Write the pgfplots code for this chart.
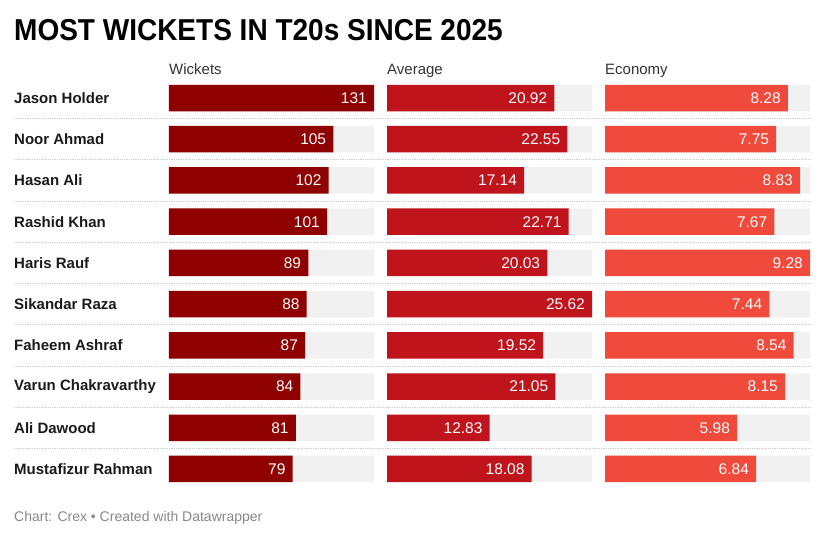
\documentclass[border=0pt]{standalone}
\usepackage{pgfplots}
\pgfplotsset{compat=1.18}
\usepackage{pgfplotstable}
\usepackage{fontspec}
\setmainfont{Liberation Sans}
\definecolor{cwk}{HTML}{8F0000}
\definecolor{cavg}{HTML}{C0141C}
\definecolor{ceco}{HTML}{EF4A3C}
\definecolor{cbg}{HTML}{F1F1F1}
\definecolor{ctxt}{HTML}{1A1A1A}
\definecolor{chead}{HTML}{333333}
\definecolor{cfoot}{HTML}{888888}
\definecolor{csep}{HTML}{CCCCCC}

\pgfplotstableread{
r wk wkl avg avgl eco ecol
1 131 131 20.92 20.92 8.28 8.28
2 105 105 22.55 22.55 7.75 7.75
3 102 102 17.14 17.14 8.83 8.83
4 101 101 22.71 22.71 7.67 7.67
5 89 89 20.03 20.03 9.28 9.28
6 88 88 25.62 25.62 7.44 7.44
7 87 87 19.52 19.52 8.54 8.54
8 84 84 21.05 21.05 8.15 8.15
9 81 81 12.83 12.83 5.98 5.98
10 79 79 18.08 18.08 6.84 6.84
}\data

\pgfplotsset{
  panel/.style={
    xbar, scale only axis, width=205pt, height=412.2pt,
    ymin=0.5, ymax=10.5, y dir=reverse,
    xmin=0, axis line style={draw=none}, xtick=\empty,
    bar width=26.5pt, clip=false,
    anchor=south west,
  },
  bgbar/.style={fill=cbg, draw=none, bar shift=0pt},
  valbar/.style={bar shift=0pt, draw=none, fill=#1,
    nodes near coords, point meta=explicit symbolic,
    every node near coord/.append style={anchor=east, text=white, font=\fontsize{15.5}{18}\selectfont, xshift=-7pt, inner sep=0pt}},
}

\begin{document}
\begin{tikzpicture}
\path[use as bounding box] (0pt,0pt) rectangle (825pt,540pt);
% title
\node[anchor=base west, inner sep=0pt, font=\bfseries\fontsize{28}{32}\selectfont, text=black] at (14pt,499pt) {\scalebox{1}[1.08]{MOST WICKETS IN T20s SINCE 2025}};
% separators
\foreach \k in {1,...,9} {
  \pgfmathsetmacro{\yy}{540-(98+20.61+(\k-1)*41.22)}
  \draw[csep, line width=0.8pt, dash pattern=on 0.9pt off 0.9pt] (14pt,\yy pt) -- (810pt,\yy pt);
}
% headers
\node[anchor=base west, inner sep=0pt, font=\fontsize{15}{18}\selectfont, text=chead] at (169pt,465pt) {Wickets};
\node[anchor=base west, inner sep=0pt, font=\fontsize{15}{18}\selectfont, text=chead] at (387pt,465pt) {Average};
\node[anchor=base west, inner sep=0pt, font=\fontsize{15}{18}\selectfont, text=chead] at (605pt,465pt) {Economy};

\begin{axis}[panel, at={(169pt,50.4pt)}, xmax=131,
  ytick={1,...,10}, major tick length=0pt,
  yticklabels={Jason Holder,Noor Ahmad,Hasan Ali,Rashid Khan,Haris Rauf,Sikandar Raza,Faheem Ashraf,Varun Chakravarthy,Ali Dawood,Mustafizur Rahman},
  yticklabel style={anchor=west, xshift=-155pt, inner sep=0pt, font=\bfseries\fontsize{15}{18}\selectfont, text=ctxt},
  ]
\addplot[bgbar] table[x expr=131, y=r] {\data};
\addplot[valbar=cwk] table[x=wk, y=r, meta=wkl] {\data};
\end{axis}

\begin{axis}[panel, at={(387pt,50.4pt)}, xmax=25.62, ytick=\empty]
\addplot[bgbar] table[x expr=25.62, y=r] {\data};
\addplot[valbar=cavg] table[x=avg, y=r, meta=avgl] {\data};
\end{axis}

\begin{axis}[panel, at={(605pt,50.4pt)}, xmax=9.28, ytick=\empty]
\addplot[bgbar] table[x expr=9.28, y=r] {\data};
\addplot[valbar=ceco] table[x=eco, y=r, meta=ecol] {\data};
\end{axis}

% footer
\node[anchor=base west, inner sep=0pt, font=\fontsize{14}{17}\selectfont, text=cfoot] at (14pt,18pt) {Chart: Crex • Created with Datawrapper};
\end{tikzpicture}
\end{document}
